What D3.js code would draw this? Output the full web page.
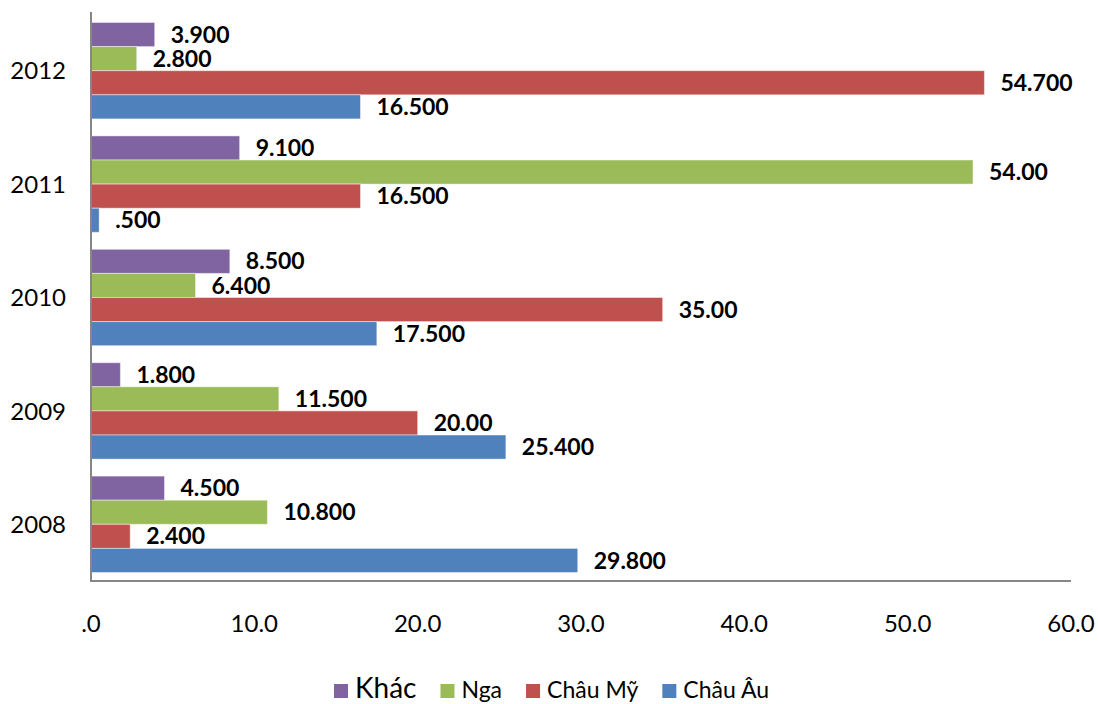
<!DOCTYPE html>
<html>
<head>
<meta charset="utf-8">
<script src="https://cdn.jsdelivr.net/npm/d3@7"></script>
<style>
  body { margin: 0; background: #fff; }
  svg { display: block; font-family: Lato, "Open Sans", sans-serif; }
</style>
</head>
<body>
<svg id="chart" width="1098" height="704"></svg>
<script>
// ---- data ----
const years = ["2012", "2011", "2010", "2009", "2008"];
const seriesNames = ["Khác", "Nga", "Châu Mỹ", "Châu Âu"];
const seriesColors = ["#8064A2", "#9BBB59", "#C0504D", "#4F81BD"];
const khac   = [3.9, 9.1, 8.5, 1.8, 4.5];
const nga    = [2.8, 54.0, 6.4, 11.5, 10.8];
const chauMy = [54.7, 16.5, 35.0, 20.0, 2.4];
const chauAu = [16.5, 0.5, 17.5, 25.4, 29.8];
const khacLabels   = ["3.900", "9.100", "8.500", "1.800", "4.500"];
const ngaLabels    = ["2.800", "54.00", "6.400", "11.500", "10.800"];
const chauMyLabels = ["54.700", "16.500", "35.00", "20.00", "2.400"];
const chauAuLabels = ["16.500", ".500", "17.500", "25.400", "29.800"];
const xTicks = [0, 10, 20, 30, 40, 50, 60];
const xTickLabels = [".0", "10.0", "20.0", "30.0", "40.0", "50.0", "60.0"];

const seriesValues = [khac, nga, chauMy, chauAu];
const seriesLabels = [khacLabels, ngaLabels, chauMyLabels, chauAuLabels];

// ---- layout ----
const svg = d3.select("#chart");
const plotLeft = 91, plotRight = 1071, plotTop = 14, plotBottom = 581;

const x = d3.scaleLinear().domain([0, 60]).range([plotLeft, plotRight]);
const y = d3.scaleBand().domain(years).range([plotTop, plotBottom]).padding(0);
const ySub = d3.scaleBand().domain(seriesNames)
  .range([8.5, y.bandwidth() - 8.5]).padding(0);

// bars
const records = [];
years.forEach((yr, i) => {
  seriesNames.forEach((s, j) => {
    records.push({ year: yr, series: s, value: seriesValues[j][i],
                   label: seriesLabels[j][i], color: seriesColors[j] });
  });
});

svg.append("g").selectAll("rect").data(records).join("rect")
  .attr("x", x(0))
  .attr("y", d => y(d.year) + ySub(d.series))
  .attr("width", d => x(d.value) - x(0))
  .attr("height", ySub.bandwidth())
  .attr("fill", d => d.color)
  .attr("stroke", "rgba(255,255,255,0.45)")
  .attr("stroke-width", 1);

// data labels
svg.append("g").selectAll("text").data(records).join("text")
  .attr("x", d => x(d.value) + 16)
  .attr("y", d => y(d.year) + ySub(d.series) + ySub.bandwidth() / 2)
  .attr("dy", "0.35em")
  .attr("font-size", 23)
  .attr("font-weight", "bold")
  .attr("fill", "#000")
  .text(d => d.label);

// axes lines
svg.append("line")
  .attr("x1", plotLeft).attr("x2", plotLeft).attr("y1", plotTop - 2).attr("y2", plotBottom)
  .attr("stroke", "#868686").attr("stroke-width", 2);
svg.append("line")
  .attr("x1", plotLeft - 1).attr("x2", plotRight).attr("y1", plotBottom).attr("y2", plotBottom)
  .attr("stroke", "#868686").attr("stroke-width", 2);

// y labels
svg.append("g").selectAll("text").data(years).join("text")
  .attr("x", 66)
  .attr("y", d => y(d) + y.bandwidth() / 2)
  .attr("dy", "0.36em")
  .attr("text-anchor", "end")
  .attr("font-size", 24)
  .attr("fill", "#000")
  .text(d => d);

// x tick labels
svg.append("g").selectAll("text").data(xTicks).join("text")
  .attr("x", d => x(d))
  .attr("y", 632)
  .attr("text-anchor", "middle")
  .attr("font-size", 24)
  .attr("fill", "#000")
  .text((d, i) => xTickLabels[i]);

// legend
const legendSizes = [28, 23, 23, 23];
const lg = svg.append("g");
let lx = 334;
seriesNames.forEach((s, i) => {
  lg.append("rect").attr("x", lx).attr("y", 684).attr("width", 14).attr("height", 14)
    .attr("fill", seriesColors[i]);
  const t = lg.append("text").attr("x", lx + 21).attr("y", 698)
    .attr("font-size", legendSizes[i]).attr("fill", "#000").text(s);
  lx = lx + 21 + t.node().getComputedTextLength() + 24;
});
</script>
</body>
</html>
